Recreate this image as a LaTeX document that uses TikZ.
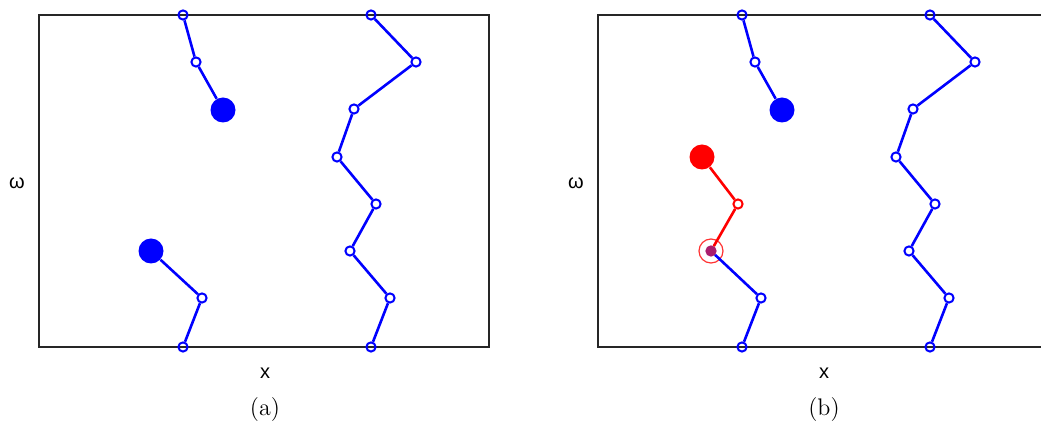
\documentclass[tikz,border=0pt]{standalone}
\usepackage{fontspec}
\newfontfamily\axisfont{Liberation Sans}
\definecolor{mixdot}{RGB}{170,30,110}
\begin{document}
\begin{tikzpicture}[x=0.5pt,y=-0.5pt,
    frame/.style={draw=black!85,line width=0.6pt},
    joint/.style={circle,draw=blue,line width=1pt,inner sep=0pt,minimum size=4.6pt},
    tip/.style={circle,fill=blue,inner sep=0pt,minimum size=12.5pt},
    link/.style={blue,line width=1.3pt},
    axislabel/.style={font=\axisfont\normalsize}]
    \useasboundingbox (0,0) rectangle (1041,427);
    \clip (0,0) rectangle (1041,427);
    % panel (a)
    \draw[frame] (39,15) rectangle (489,347);
    \node[axislabel] (a-w) at (17,183) {ω};
    \node[axislabel] (a-x) at (265,373) {x};
    \node[font=\large] (a-cap) at (265,410) {(a)};
    % upper left arm
    \node[joint] (a1) at (183,15) {};
    \node[joint] (a2) at (196,62) {};
    \node[tip] (a3) at (223,110) {};
    \draw[link] (a1) -- (a2) -- (a3);
    % lower left arm
    \node[tip] (a4) at (151,251) {};
    \node[joint] (a5) at (202,298) {};
    \node[joint] (a6) at (183,347) {};
    \draw[link] (a4) -- (a5) -- (a6);
    % right chain
    \node[joint] (ar1) at (371,15) {};
    \node[joint] (ar2) at (416,62) {};
    \node[joint] (ar3) at (354,109) {};
    \node[joint] (ar4) at (337,157) {};
    \node[joint] (ar5) at (376,204) {};
    \node[joint] (ar6) at (350,251) {};
    \node[joint] (ar7) at (390,298) {};
    \node[joint] (ar8) at (371,347) {};
    \draw[link] (ar1) -- (ar2) -- (ar3) -- (ar4) -- (ar5) -- (ar6) -- (ar7) -- (ar8);
    % panel (b)
    \begin{scope}[shift={(559,0)}]
      \draw[frame] (39,15) rectangle (489,347);
      \node[axislabel] (b-w) at (17,183) {ω};
      \node[axislabel] (b-x) at (265,373) {x};
      \node[font=\large] (b-cap) at (265,410) {(b)};
      % upper left arm
      \node[joint] (b1) at (183,15) {};
      \node[joint] (b2) at (196,62) {};
      \node[tip] (b3) at (223,110) {};
      \draw[link] (b1) -- (b2) -- (b3);
      % lower left arm, grown
      \node[circle,draw=red!80,line width=0.6pt,inner sep=0pt,minimum size=12pt] (bring) at (152,251) {};
      \node[joint,draw=mixdot,fill=mixdot] (b4) at (152,251) {};
      \node[joint] (b5) at (202,298) {};
      \node[joint] (b6) at (183,347) {};
      \draw[link] (b4) -- (b5) -- (b6);
      \node[joint,draw=red] (bn1) at (179,204) {};
      \node[tip,fill=red] (bn2) at (143,157) {};
      \draw[link,red] (b4) -- (bn1) -- (bn2);
      % right chain
      \node[joint] (br1) at (371,15) {};
      \node[joint] (br2) at (416,62) {};
      \node[joint] (br3) at (354,109) {};
      \node[joint] (br4) at (337,157) {};
      \node[joint] (br5) at (376,204) {};
      \node[joint] (br6) at (350,251) {};
      \node[joint] (br7) at (390,298) {};
      \node[joint] (br8) at (371,347) {};
      \draw[link] (br1) -- (br2) -- (br3) -- (br4) -- (br5) -- (br6) -- (br7) -- (br8);
    \end{scope}
  \end{tikzpicture}
\end{document}
